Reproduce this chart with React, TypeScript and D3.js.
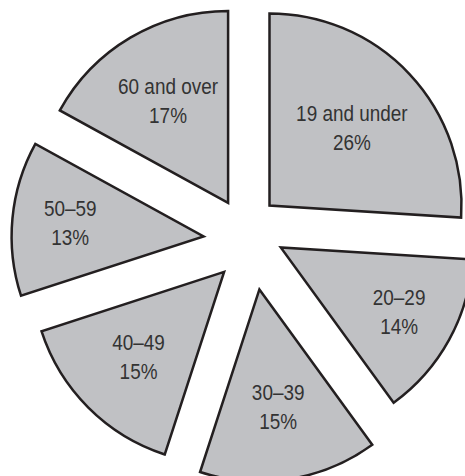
import React from "react";
import * as d3 from "d3";

// ---- data ----
const categories = ["19 and under", "20–29", "30–39", "40–49", "50–59", "60 and over"];
const values = [26, 14, 15, 15, 13, 17];
const valueLabels = ["26%", "14%", "15%", "15%", "13%", "17%"];

// ---- layout ----
const W = 465;
const H = 476;
const CX = 245;
const CY = 245;
const R = 192;
// explode offset of each slice from the common centre
const explodeOffsets: [number, number][] = [
  [24.5, -39.5],
  [35.8, 2.4],
  [14.4, 44.4],
  [-20.9, 26.9],
  [-41.4, -8.6],
  [-16.9, -42.1],
];
// distance of each label from its slice apex
const labelRadii = [113, 135, 120, 121, 134, 118];

const FILL = "#c0c1c4";
const STROKE = "#231f20";
const TEXT = "#333333";

export default function App() {
  const pie = d3
    .pie<number>()
    .sort(null)
    .value((d) => d)
    .startAngle(0)
    .endAngle(2 * Math.PI);
  const arcs = pie(values);
  const arc = d3.arc<d3.PieArcDatum<number>>().innerRadius(0).outerRadius(R);

  return (
    <svg
      width={W}
      height={H}
      style={{ position: "absolute", left: 0, top: 0, background: "#fff" }}
    >
      <g transform={`translate(${CX},${CY})`}>
        {arcs.map((a, i) => {
          const [dx, dy] = explodeOffsets[i];
          const mid = (a.startAngle + a.endAngle) / 2;
          const lr = labelRadii[i];
          const lx = Math.sin(mid) * lr;
          const ly = -Math.cos(mid) * lr;
          return (
            <g key={categories[i]} transform={`translate(${dx},${dy})`}>
              <path
                d={arc(a) || ""}
                fill={FILL}
                stroke={STROKE}
                strokeWidth={2.5}
                strokeLinejoin="miter"
              />
              <g transform={`translate(${lx},${ly}) scale(0.88,1)`}>
                <text
                  textAnchor="middle"
                  fill={TEXT}
                  style={{
                    fontFamily: "'Liberation Sans', Arial, sans-serif",
                    fontSize: 21.5,
                  }}
                >
                  <tspan x={0} dy={-7.5}>
                    {categories[i]}
                  </tspan>
                  <tspan x={0} dy={29}>
                    {valueLabels[i]}
                  </tspan>
                </text>
              </g>
            </g>
          );
        })}
      </g>
    </svg>
  );
}
